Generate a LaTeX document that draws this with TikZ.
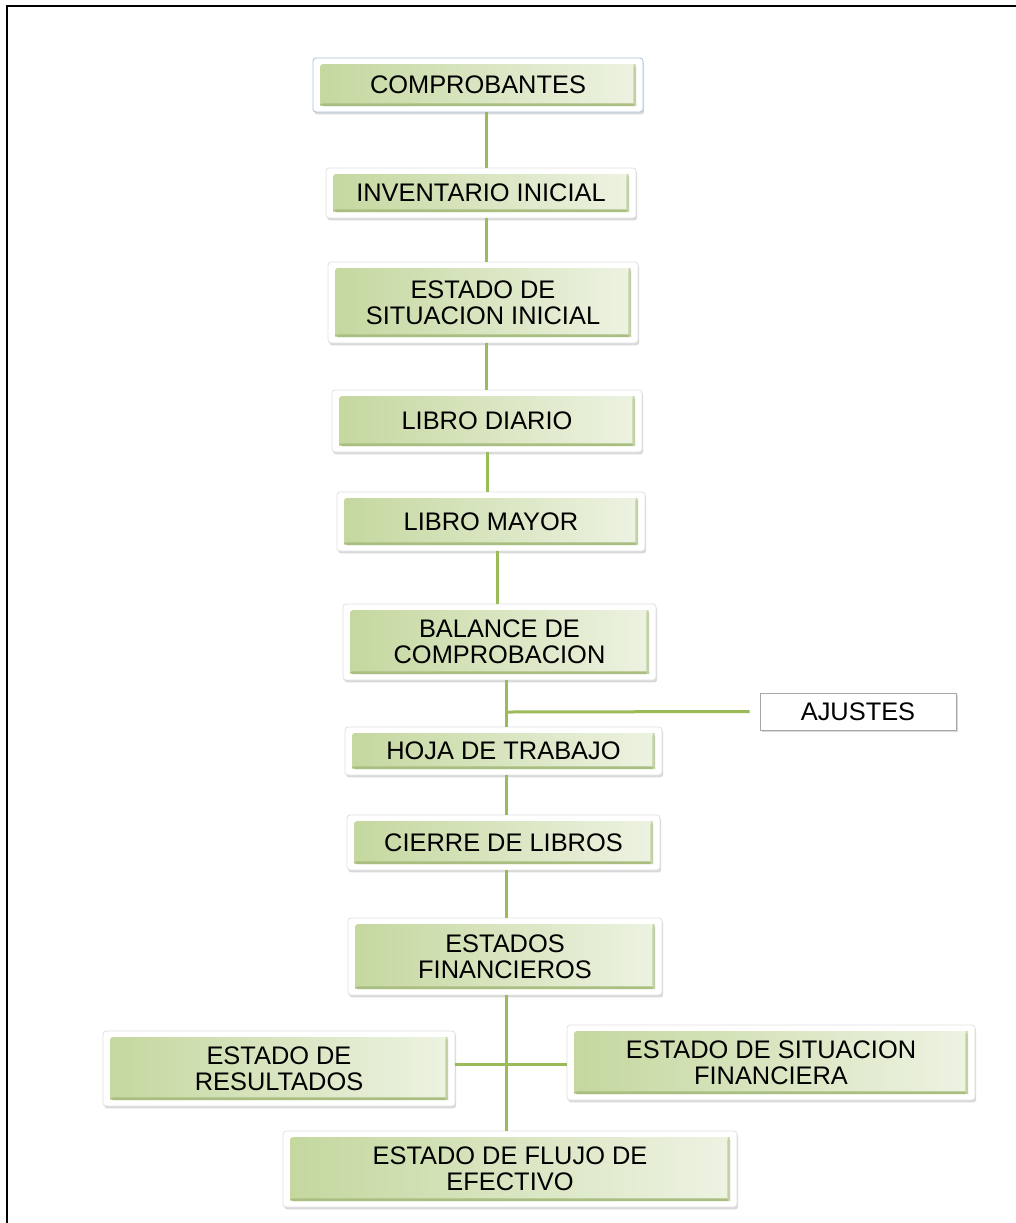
\documentclass[tikz,border=0pt]{standalone}
\usepackage{fontspec}
\setmainfont{Liberation Sans}
\usetikzlibrary{shadows}
\definecolor{gline}{HTML}{9BBB59}
\definecolor{gA}{HTML}{C4D79E}
\definecolor{gB}{HTML}{EEF3E3}
\definecolor{gD}{HTML}{A9BE80}
\definecolor{selblue}{HTML}{A8BEDD}
\tikzset{
  gbox/.style={draw=black!12, fill=white, rounded corners=1.5pt, align=center,
    font=\fontsize{12.7}{13}\selectfont, text=black,
    drop shadow={shadow xshift=0.6pt, shadow yshift=-1.2pt, opacity=0.25, fill=black!60},
    path picture={
      \shade[left color=gA, right color=gB]
        ([shift={(3.5pt,-3pt)}]path picture bounding box.north west) rectangle
        ([shift={(-3.5pt,3pt)}]path picture bounding box.south east);
      \fill[gD]
        ([shift={(3.5pt,3pt)}]path picture bounding box.south west) rectangle
        ([shift={(-3.5pt,4.3pt)}]path picture bounding box.south east);
      \fill[gD!70]
        ([shift={(-4.8pt,3pt)}]path picture bounding box.south east) rectangle
        ([shift={(-3.5pt,-3pt)}]path picture bounding box.north east);
    }},
  wbox/.style={draw=black!35, fill=white, align=center,
    font=\fontsize{12.7}{13}\selectfont, text=black,
    drop shadow={shadow xshift=0.8pt, shadow yshift=-0.8pt, opacity=0.25, fill=black!60}},
  conn/.style={draw=gline, line width=1.5pt},
  frame/.style={draw=black, line width=1.4pt}
}
\begin{document}
\begin{tikzpicture}[x=0.5pt,y=-0.5pt]
\useasboundingbox (0,0) rectangle (1016,1223);
\draw[frame] (7,1223) -- (7,6) -- (1016,6);

\node[gbox, draw=selblue, minimum width=165pt, minimum height=27pt] (comp) at (478,85) {COMPROBANTES};
\node[gbox, minimum width=155pt, minimum height=25pt] (inv) at (481,193) {INVENTARIO INICIAL};
\node[gbox, minimum width=155pt, minimum height=40.5pt] (esi) at (483,302.5) {ESTADO DE\\SITUACION INICIAL};
\node[gbox, minimum width=155pt, minimum height=31pt] (ldi) at (487,421) {LIBRO DIARIO};
\node[gbox, minimum width=154pt, minimum height=29.5pt] (lma) at (491,521.5) {LIBRO MAYOR};
\node[gbox, minimum width=156.5pt, minimum height=38pt] (bal) at (499.5,642) {BALANCE DE\\COMPROBACION};
\node[gbox, minimum width=158.5pt, minimum height=24pt] (hoja) at (503.5,751) {HOJA DE TRABAJO};
\node[wbox, minimum width=98pt, minimum height=18.5pt] (aju) at (858,711.5) {AJUSTES};
\node[gbox, minimum width=156.5pt, minimum height=27.5pt] (cie) at (503.5,842.5) {CIERRE DE LIBROS};
\node[gbox, minimum width=157pt, minimum height=38.5pt] (ef) at (505,956.5) {ESTADOS\\FINANCIEROS};
\node[gbox, minimum width=176pt, minimum height=37.5pt] (er) at (279,1068.5) {ESTADO DE\\RESULTADOS};
\node[gbox, minimum width=204pt, minimum height=37.5pt] (esf) at (771,1062.5) {ESTADO DE SITUACION\\FINANCIERA};
\node[gbox, minimum width=227pt, minimum height=38pt] (efe) at (510,1169) {ESTADO DE FLUJO DE\\EFECTIVO};

\coordinate (xa) at (486,0);
\coordinate (xb) at (487,0);
\coordinate (xc) at (497,0);
\coordinate (xd) at (506,0);
\coordinate (ja) at (506,712);
\coordinate (jb) at (506,1064);

\begin{scope}[on background layer/.style={}]
\draw[conn] (comp.south -| xa) -- (inv.north -| xa);
\draw[conn] (inv.south -| xa) -- (esi.north -| xa);
\draw[conn] (esi.south -| xa) -- (ldi.north -| xa);
\draw[conn] (ldi.south -| xb) -- (lma.north -| xb);
\draw[conn] (lma.south -| xc) -- (bal.north -| xc);
\draw[conn] (bal.south -| xd) -- (hoja.north -| xd);
\draw[conn] (ja) -- ([xshift=-5pt]aju.west);
\draw[conn] (hoja.south -| xd) -- (cie.north -| xd);
\draw[conn] (cie.south -| xd) -- (ef.north -| xd);
\draw[conn] (ef.south -| xd) -- (efe.north -| xd);
\draw[conn] (er.east |- jb) -- (esf.west |- jb);
\end{scope}
\end{tikzpicture}
\end{document}
